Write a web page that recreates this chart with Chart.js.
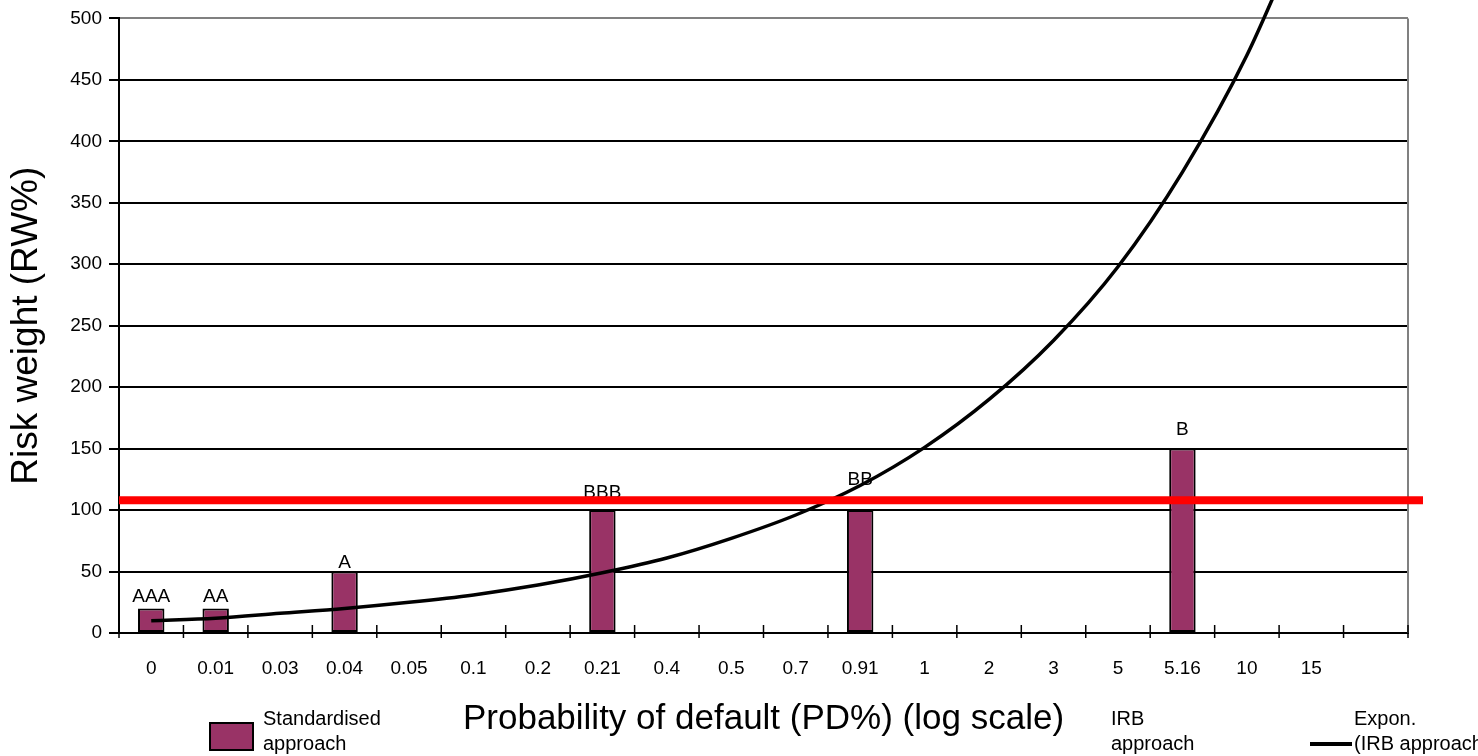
<!DOCTYPE html>
<html>
<head>
<meta charset="utf-8">
<title>Risk weight vs probability of default</title>
<script src="https://cdn.jsdelivr.net/npm/chart.js@4.4.1/dist/chart.umd.min.js"></script>
<style>
    html, body { margin: 0; padding: 0; background: #fff; overflow: hidden; }
    #wrap { position: relative; width: 1478px; height: 756px; }
</style>
</head>
<body>
<div id="wrap"><canvas id="rw-chart"></canvas></div>
<script>
    // PD buckets on the x axis (last slot is left empty)
    var pdLabels = ["0", "0.01", "0.03", "0.04", "0.05", "0.1", "0.2", "0.21", "0.4", "0.5",
                    "0.7", "0.91", "1", "2", "3", "5", "5.16", "10", "15", ""];

    // Standardised approach risk weights, only at the rated buckets
    var stdWeights = [20, 20, null, 50, null, null, null, 100, null, null,
                      null, 100, null, null, null, null, 150, null, null, null];
    var ratingNames = ["AAA", "AA", null, "A", null, null, null, "BBB", null, null,
                       null, "BB", null, null, null, null, "B", null, null, null];
    // height (RW%) at which each rating name sits
    var ratingLabelAt = [25, 25, null, 53, null, null, null, 110, null, null,
                         null, 120, null, null, null, null, 161, null, null, null];

    // Expon. trendline of the IRB approach
    var irbTrend = [10, 12, 16, 20, 25, 31, 39, 49, 61, 77,
                    96, 120, 151, 190, 238, 298, 375, 470, 590, null];

    // red reference level (RW%)
    var redLevel = 108;

    // y axis range and step
    var yMin = 0, yMax = 500, yStep = 50;

    var legendLabels = [["Standardised", "approach"], ["IRB", "approach"], ["Expon.", "(IRB approach)"]];

    var fontFamily = "'Liberation Sans', Arial, Helvetica, sans-serif";
    Chart.defaults.font.family = fontFamily;
    Chart.defaults.color = "#000";

    // Extra drawing: frame, crossing x ticks, rating labels, red level, legend
    var rwDecor = {
        id: 'rwDecor',
        beforeDatasetsDraw: function (chart) {
            var c = chart.ctx, area = chart.chartArea, xs = chart.scales.x;
            c.save();
            c.strokeStyle = '#808080';
            c.lineWidth = 2;
            c.beginPath();
            c.moveTo(area.right, area.top);
            c.lineTo(area.right, area.bottom);
            c.stroke();

            c.strokeStyle = '#000';
            c.lineWidth = 1.5;
            var n = pdLabels.length;
            for (var i = 0; i <= n; i++) {
                var x;
                if (i === 0) x = area.left;
                else if (i === n) x = area.right;
                else x = (xs.getPixelForValue(i - 1) + xs.getPixelForValue(i)) / 2;
                c.beginPath();
                c.moveTo(x, area.bottom - 8);
                c.lineTo(x, area.bottom + 5);
                c.stroke();
            }
            c.restore();
        },
        afterDatasetsDraw: function (chart) {
            var c = chart.ctx, area = chart.chartArea, ys = chart.scales.y;
            c.save();
            // rating names above the bars
            var meta = chart.getDatasetMeta(1);
            c.font = "19px " + fontFamily;
            c.fillStyle = '#000';
            c.textAlign = 'center';
            c.textBaseline = 'alphabetic';
            meta.data.forEach(function (bar, i) {
                if (ratingNames[i] == null) return;
                c.fillText(ratingNames[i], bar.x, ys.getPixelForValue(ratingLabelAt[i]));
            });

            // red level line, runs a little past the frame
            var yr = ys.getPixelForValue(redLevel);
            c.strokeStyle = '#ff0000';
            c.lineWidth = 8;
            c.beginPath();
            c.moveTo(area.left, yr);
            c.lineTo(area.right + 15, yr);
            c.stroke();
            c.restore();
        },
        afterDraw: function (chart) {
            var c = chart.ctx;
            c.save();
            c.font = "20px " + fontFamily;
            c.textAlign = 'left';
            c.textBaseline = 'alphabetic';

            // Standardised approach
            c.fillStyle = '#993366';
            c.fillRect(210, 723, 43, 27);
            c.strokeStyle = '#000';
            c.lineWidth = 2;
            c.strokeRect(210, 723, 43, 27);
            c.fillStyle = '#000';
            c.fillText(legendLabels[0][0], 263, 725);
            c.fillText(legendLabels[0][1], 263, 750);

            // IRB approach
            c.fillText(legendLabels[1][0], 1111, 725);
            c.fillText(legendLabels[1][1], 1111, 750);

            // Expon. (IRB approach)
            c.lineWidth = 4;
            c.beginPath();
            c.moveTo(1310, 744);
            c.lineTo(1352, 744);
            c.stroke();
            c.fillText(legendLabels[2][0], 1354, 725);
            c.fillText(legendLabels[2][1], 1354, 750);
            c.restore();
        }
    };

    var ctx = document.getElementById('rw-chart').getContext('2d');
    var rwChart = new Chart(ctx, {
        type: 'bar',
        data: {
            labels: pdLabels,
            datasets: [{
                type: 'line',
                label: 'Expon. (IRB approach)',
                data: irbTrend,
                borderColor: '#000',
                borderWidth: 3.5,
                pointRadius: 0,
                cubicInterpolationMode: 'monotone',
                clip: false,
                order: 1
            },
            {
                label: 'Standardised approach',
                data: stdWeights,
                backgroundColor: '#993366',
                borderColor: '#000',
                borderWidth: 2,
                borderSkipped: false,
                categoryPercentage: 1,
                barPercentage: 0.41,
                order: 2
            }]
        },
        options: {
            responsive: true,
            maintainAspectRatio: false,
            animation: false,
            layout: {
                padding: { top: 17, right: 70, left: 0, bottom: 0 }
            },
            plugins: {
                legend: { display: false },
                tooltip: { enabled: false }
            },
            scales: {
                x: {
                    offset: true,
                    grid: { display: false },
                    border: { display: true, color: '#000', width: 2 },
                    ticks: { font: { size: 19 }, padding: 16, maxRotation: 0, autoSkip: false },
                    title: {
                        display: true,
                        text: 'Probability of default (PD%) (log scale)',
                        font: { size: 35 },
                        padding: { top: 0, bottom: 16 }
                    },
                    afterFit: function (scale) { scale.height = 123; }
                },
                y: {
                    min: yMin,
                    max: yMax,
                    ticks: { stepSize: yStep, font: { size: 19 }, padding: 7 },
                    grid: {
                        color: function (context) {
                            return context.tick && context.tick.value === yMax ? '#808080' : '#000';
                        },
                        lineWidth: 2,
                        tickLength: 10,
                        tickColor: '#000',
                        tickWidth: 2
                    },
                    border: { color: '#000', width: 2 },
                    title: {
                        display: true,
                        text: 'Risk weight (RW%)',
                        font: { size: 37 },
                        padding: { top: 5, bottom: 0 }
                    },
                    afterFit: function (scale) { scale.width = 119; }
                }
            }
        },
        plugins: [rwDecor]
    });
</script>
</body>
</html>
